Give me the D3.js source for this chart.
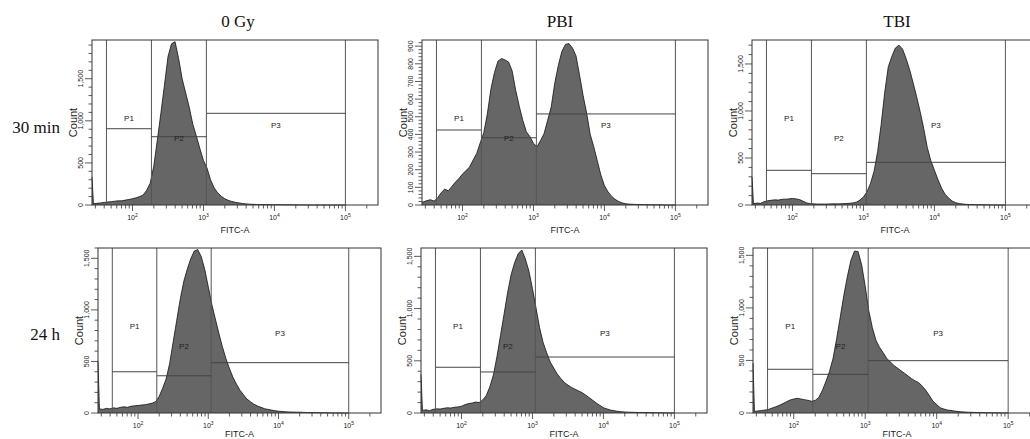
<!DOCTYPE html>
<html>
<head>
<meta charset="utf-8">
<script src="https://cdn.jsdelivr.net/npm/d3@7"></script>
<style>
body { margin: 0; background: #fff; }
svg text { font-family: "Liberation Sans", Arial, sans-serif; fill: #222; }
svg text.serif { font-family: "Liberation Serif", "Times New Roman", serif; fill: #111; }
</style>
</head>
<body>
<div id="chart"></div>
<script>
// FITC-A bin centres (log10 units); first bin is the pile-up at the low edge
const binsLog = [1.43,
  1.45,1.50,1.55,1.60,1.65,1.70,1.75,1.80,1.85,1.90,
  1.95,2.00,2.05,2.10,2.15,2.20,2.25,2.30,2.35,2.40,
  2.45,2.50,2.55,2.60,2.65,2.70,2.75,2.80,2.85,2.90,
  2.95,3.00,3.05,3.10,3.15,3.20,3.25,3.30,3.35,3.40,
  3.45,3.50,3.55,3.60,3.65,3.70,3.75,3.80,3.85,3.90,
  3.95,4.00,4.05,4.10,4.15,4.20,4.25,4.30,4.35,4.40,
  4.45,4.50,4.55,4.60,4.65,4.70,4.75,4.80,4.85,4.90,
  4.95,5.00];

const colTitles = ['0 Gy', 'PBI', 'TBI'];
const rowTitles = ['30 min', '24 h'];
const gateNames = ['P1', 'P2', 'P3'];
const gateEdges = [43, 185, 1100, 100000];

// counts per bin, row 1 (30 min)
const gy0_30 = [330,
  15,20,25,30,35,40,45,50,50,58,
  65,75,85,100,118,175,260,460,770,1090,
  1420,1760,1915,1940,1740,1500,1330,1160,960,820,
  670,530,440,300,205,145,105,75,55,42,
  32,25,18,13,10,8,6,5,5,4,
  4,3,3,3,2,2,2,2,1,1,
  1,0,0,0,0,0,0,0,0,0,
  0,0];
const pbi_30 = [15,
  18,25,30,22,40,70,90,80,105,130,
  150,175,195,215,255,292,352,410,515,655,
  750,815,830,822,810,760,650,560,480,415,
  388,350,330,365,405,480,555,690,790,870,
  910,915,890,845,735,620,520,400,330,250,
  170,110,75,50,32,20,12,7,5,4,
  3,3,2,2,1,1,1,1,0,0,
  0,0];
const tbi_30 = [300,
  15,20,18,35,45,50,55,52,60,62,
  65,70,65,58,40,22,14,12,10,10,
  10,10,12,12,12,14,15,18,22,30,
  52,85,140,230,360,570,860,1200,1470,1580,
  1670,1700,1660,1560,1440,1300,1150,990,810,610,
  470,370,270,180,115,75,42,25,15,10,
  7,5,4,3,3,2,2,1,1,0,
  0,0];

// counts per bin, row 2 (24 h)
const gy0_24 = [500,
  40,35,45,40,50,45,55,60,55,65,
  70,72,78,80,88,95,110,160,240,330,
  480,688,896,1100,1273,1393,1495,1570,1585,1516,
  1391,1224,1054,914,775,645,530,434,348,282,
  222,178,135,110,85,68,55,42,35,28,
  22,17,15,12,10,9,8,8,6,5,
  4,4,3,3,2,2,1,1,1,1,
  0,0];
const pbi_24 = [370,
  25,30,22,35,40,38,45,50,48,55,
  58,65,80,90,95,105,100,125,168,252,
  365,540,743,946,1152,1326,1441,1527,1561,1475,
  1359,1191,1009,818,676,578,488,430,373,330,
  292,267,245,228,211,195,172,147,121,96,
  73,51,39,28,22,16,12,10,8,7,
  6,5,5,4,4,3,3,2,2,1,
  1,1];
const tbi_24 = [475,
  15,20,24,28,35,48,60,74,90,108,
  124,133,140,133,127,120,112,120,148,215,
  300,395,520,707,910,1117,1298,1453,1541,1536,
  1410,1205,972,812,693,625,575,521,487,453,
  428,402,378,352,326,305,288,254,213,163,
  111,80,50,38,28,24,19,14,11,9,
  7,6,5,4,4,3,3,2,2,1,
  1,1];

const series = [gy0_30, pbi_30, tbi_30, gy0_24, pbi_24, tbi_24];
const yMaxes = [1960, 935, 1755, 1600, 1580, 1570];
const yMajorStep = [500, 100, 500, 500, 500, 500];
const yMinorStep = [100, 20, 100, 100, 100, 100];
// horizontal gate levels (counts) for P1, P2, P3 in each panel
const gateLevels = [
  [906, 811, 1089],
  [425, 381, 516],
  [369, 333, 454],
  [400, 361, 488],
  [438, 393, 536],
  [416, 368, 498]
];

// layout
var width = 1030, height = 439;
var boxes = [
  {x: 92, y: 40, w: 286}, {x: 422, y: 40, w: 286}, {x: 752, y: 40, w: 286},
  {x: 98, y: 248, w: 283}, {x: 421, y: 248, w: 286}, {x: 753, y: 248, w: 288}
];
var boxH = 165;
var labelDy = [78, 98, 85];

var svg = d3.select('#chart')
            .append('svg')
            .attr('width', width)
            .attr('height', height);

svg.append('rect').attr('width', width).attr('height', height).attr('fill', '#fff');

boxes.forEach(function(b, i) {
  var g = svg.append('g');
  var counts = series[i];
  var x = d3.scaleLog().domain([26.9, 288000]).range([b.x, b.x + b.w]);
  var y = d3.scaleLinear().domain([0, yMaxes[i]]).range([b.y + boxH, b.y]);
  var base = b.y + boxH;

  var pts = binsLog.map(function(l, k) { return [Math.pow(10, l), counts[k]]; });

  // histogram
  g.append('path')
   .datum(pts)
   .attr('fill', '#666')
   .attr('d', d3.area().x(d => x(d[0])).y0(base).y1(d => y(d[1])));
  g.append('path')
   .datum(pts)
   .attr('fill', 'none')
   .attr('stroke', '#111')
   .attr('stroke-width', 0.8)
   .attr('d', d3.line().x(d => x(d[0])).y(d => y(d[1])));

  // gates
  gateEdges.forEach(function(e) {
    g.append('line')
     .attr('x1', x(e)).attr('x2', x(e))
     .attr('y1', b.y).attr('y2', base)
     .attr('stroke', '#555').attr('stroke-width', 1);
  });
  gateNames.forEach(function(name, j) {
    var xa = x(gateEdges[j]), xb = x(gateEdges[j + 1]);
    g.append('line')
     .attr('x1', xa).attr('x2', xb)
     .attr('y1', y(gateLevels[i][j])).attr('y2', y(gateLevels[i][j]))
     .attr('stroke', '#444').attr('stroke-width', 1);
    g.append('text')
     .attr('x', (xa + xb) / 2)
     .attr('y', b.y + labelDy[j])
     .attr('text-anchor', 'middle')
     .attr('dominant-baseline', 'central')
     .attr('font-size', 8)
     .text(name);
  });

  // frame
  g.append('rect')
   .attr('x', b.x).attr('y', b.y)
   .attr('width', b.w).attr('height', boxH)
   .attr('fill', 'none').attr('stroke', '#333').attr('stroke-width', 1);

  // y axis ticks
  d3.range(0, yMaxes[i] + 1, yMinorStep[i]).forEach(function(v) {
    var major = v % yMajorStep[i] === 0;
    g.append('line')
     .attr('x1', b.x - (major ? 7 : 3.5)).attr('x2', b.x)
     .attr('y1', y(v)).attr('y2', y(v))
     .attr('stroke', '#333').attr('stroke-width', 0.8);
    if (major) {
      g.append('text')
       .attr('transform', 'translate(' + (b.x - 11.5) + ',' + y(v) + ') rotate(-90)')
       .attr('text-anchor', 'middle')
       .attr('dominant-baseline', 'central')
       .attr('font-size', 7)
       .text(d3.format(',')(v));
    }
  });

  g.append('text')
   .attr('transform', 'translate(' + (b.x - 19) + ',' + (b.y + boxH / 2) + ') rotate(-90)')
   .attr('text-anchor', 'middle')
   .attr('dominant-baseline', 'central')
   .attr('font-size', 11)
   .text('Count');

  // x axis ticks (log decades)
  [1, 2, 3, 4, 5].forEach(function(k) {
    d3.range(1, 10).forEach(function(m) {
      var v = m * Math.pow(10, k);
      if (v < 26.9 || v > 288000) return;
      g.append('line')
       .attr('x1', x(v)).attr('x2', x(v))
       .attr('y1', base).attr('y2', base + (m === 1 ? 6 : 3.5))
       .attr('stroke', '#333').attr('stroke-width', 0.8);
      if (m === 1 && k >= 2) {
        var t = g.append('text')
                 .attr('x', x(v)).attr('y', base + 14.5)
                 .attr('text-anchor', 'middle')
                 .attr('font-size', 7);
        t.append('tspan').text('10');
        t.append('tspan').attr('dy', -3).attr('font-size', 5).text(k);
      }
    });
  });

  g.append('text')
   .attr('x', b.x + b.w / 2)
   .attr('y', base + (i < 3 ? 28 : 24))
   .attr('text-anchor', 'middle')
   .attr('font-size', 9)
   .text('FITC-A');
});

// column and row titles
var titleX = [238, 560, 897];
colTitles.forEach(function(t, j) {
  svg.append('text')
     .attr('class', 'serif')
     .attr('x', titleX[j]).attr('y', 27)
     .attr('text-anchor', 'middle')
     .attr('font-size', 17)
     .text(t);
});
var rowY = [133, 340];
rowTitles.forEach(function(t, j) {
  svg.append('text')
     .attr('class', 'serif')
     .attr('x', 60).attr('y', rowY[j])
     .attr('text-anchor', 'end')
     .attr('font-size', 17)
     .text(t);
});
</script>
</body>
</html>
